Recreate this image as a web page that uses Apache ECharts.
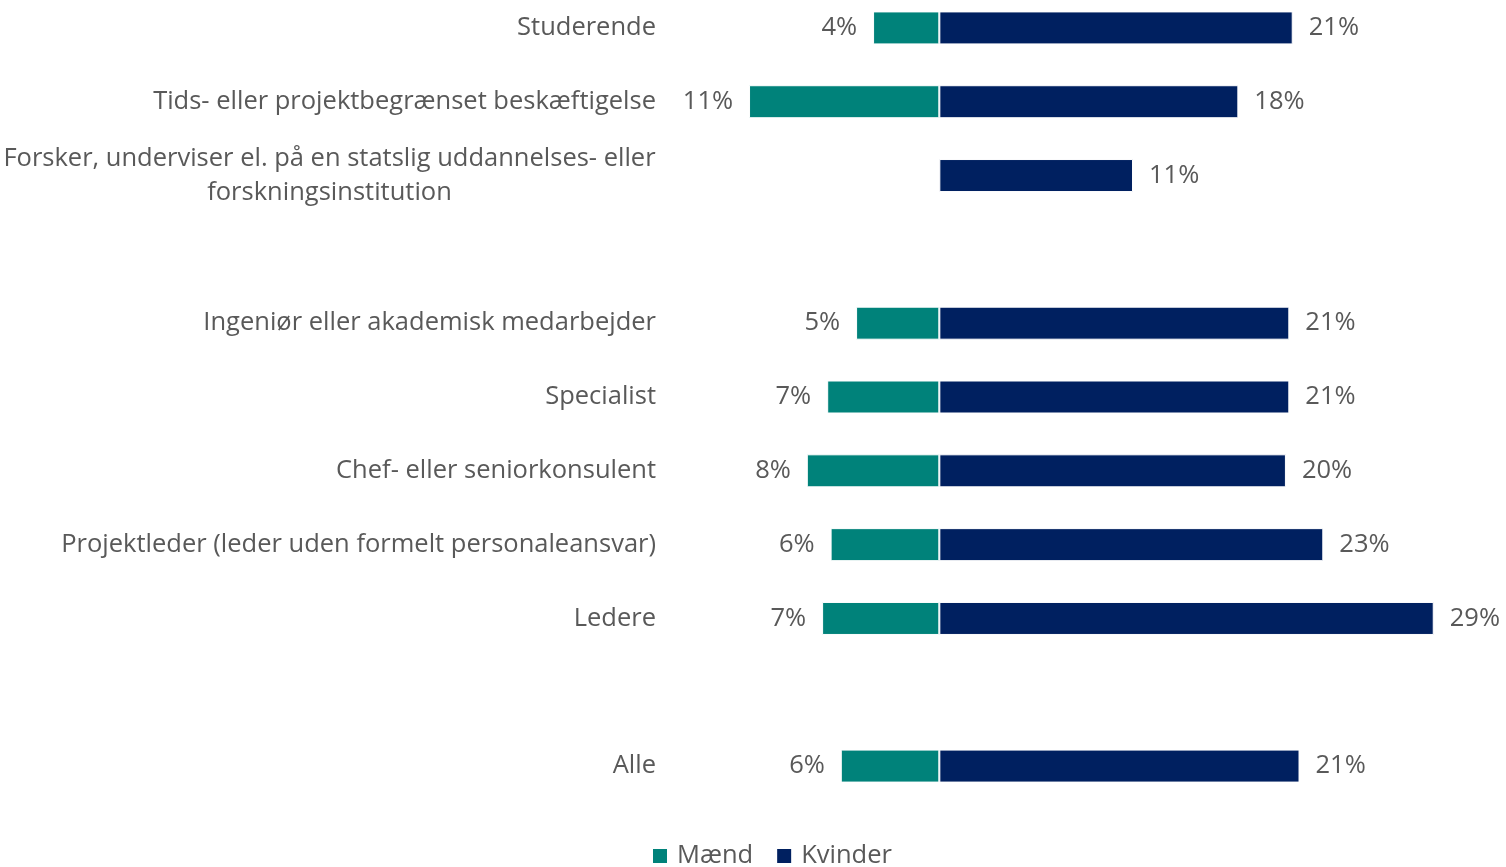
<!DOCTYPE html>
<html>
<head>
<meta charset="utf-8">
<script src="https://cdn.jsdelivr.net/npm/echarts@6/dist/echarts.min.js"></script>
<style>
  html, body { margin: 0; padding: 0; background: #fff; overflow: hidden; }
  #chart { width: 1506px; height: 878px; margin-top: -11px; }
</style>
</head>
<body>
<div id="chart"></div>
<script>
  // rows top to bottom, blank rows are spacers
  var categories = [
    'Studerende',
    'Tids- eller projektbegrænset beskæftigelse',
    'Forsker, underviser el. på en statslig uddannelses- eller\nforskningsinstitution',
    '',
    'Ingeniør eller akademisk medarbejder',
    'Specialist',
    'Chef- eller seniorkonsulent',
    'Projektleder (leder uden formelt personaleansvar)',
    'Ledere',
    ' ',
    'Alle'
  ];
  var maend = [3.9, 11.2, null, null, 4.9, 6.6, 7.8, 6.4, 6.9, null, 5.8];
  var kvinder = [20.8, 17.6, 11.4, null, 20.6, 20.6, 20.4, 22.6, 29.1, null, 21.2];

  var textColor = '#595959';
  var fontFam = '"Open Sans", "Noto Sans", sans-serif';
  var fs = 25.5;

  // width of the widest line, so two-line labels can be centred as a block
  var ctx = document.createElement('canvas').getContext('2d');
  ctx.font = fs + 'px ' + fontFam;
  function lineWidth(lines) {
    return Math.ceil(Math.max.apply(null, lines.map(function (s) { return ctx.measureText(s).width; })));
  }

  var chart = echarts.init(document.getElementById('chart'));
  var option = {
    animation: false,
    textStyle: { fontFamily: fontFam },
    legend: {
      bottom: -7,
      left: 646,
      itemWidth: 16,
      itemHeight: 16,
      itemGap: 22,
      icon: 'rect',
      textStyle: { color: textColor, fontSize: fs, fontFamily: fontFam, padding: [0, 0, 0, 4] },
      data: ['Mænd', 'Kvinder']
    },
    grid: { left: 658, right: 6, top: 2, height: 812, containLabel: false },
    xAxis: {
      type: 'value',
      min: -16.5,
      max: 33,
      show: false
    },
    yAxis: {
      type: 'category',
      inverse: true,
      data: categories,
      axisLine: { show: false },
      axisTick: { show: false },
      axisLabel: {
        margin: 3,
        color: textColor,
        fontSize: fs,
        lineHeight: 34,
        formatter: function (v) {
          if (v.indexOf('\n') >= 0) {
            return v.split('\n').map(function (s) { return '{c|' + s + '}'; }).join('\n');
          }
          return v;
        },
        rich: {
          c: { align: 'center', fontSize: fs, color: textColor, lineHeight: 34, fontFamily: fontFam }
        }
      }
    },
    series: [
      {
        name: 'Mænd',
        type: 'bar',
        stack: 'all',
        barWidth: 33,
        itemStyle: { color: '#00827A', borderColor: '#fff', borderWidth: 1 },
        label: {
          show: true,
          position: 'left',
          distance: 16,
          color: textColor,
          fontSize: fs,
          formatter: function (p) { return Math.round(-p.value) + '%'; }
        },
        data: maend.map(function (v) { return v == null ? null : -v; })
      },
      {
        name: 'Kvinder',
        type: 'bar',
        stack: 'all',
        barWidth: 33,
        itemStyle: { color: '#002060', borderColor: '#fff', borderWidth: 1 },
        label: {
          show: true,
          position: 'right',
          distance: 16,
          color: textColor,
          fontSize: fs,
          formatter: function (p) { return Math.round(p.value) + '%'; }
        },
        data: kvinder
      }
    ]
  };
  // centring box = measured width of the widest line
  option.yAxis.axisLabel.rich.c.width = lineWidth(categories[2].split('\n'));
  chart.setOption(option);
</script>
</body>
</html>
